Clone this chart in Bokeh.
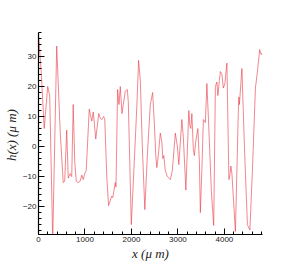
from bokeh.plotting import figure
from bokeh.models import Range1d, SingleIntervalTicker
from bokeh.embed import file_html
from bokeh.resources import INLINE

# surface profile h(x)
x_um = [0, 58, 123, 198, 241, 306, 392, 467, 532, 564, 607, 640, 683, 715, 747,
        780, 812, 855, 898, 931, 963, 995, 1027, 1092, 1124, 1146, 1178, 1232,
        1297, 1329, 1361, 1404, 1426, 1469, 1508, 1544, 1576, 1598, 1620, 1652,
        1667, 1702, 1732, 1760, 1796, 1824, 1868, 1911, 1932, 1997, 2061, 2115,
        2154, 2191, 2234, 2288, 2342, 2406, 2456, 2492, 2524, 2546, 2578, 2621,
        2654, 2675, 2697, 2729, 2772, 2837, 2880, 2944, 2988, 3020, 3085, 3117,
        3171, 3235, 3257, 3278, 3300, 3332, 3354, 3386, 3429, 3462, 3483, 3515,
        3548, 3591, 3623, 3655, 3720, 3770, 3806, 3838, 3860, 3892, 3914, 3946,
        3978, 4011, 4054, 4097, 4118, 4140, 4162, 4237, 4302, 4312, 4323, 4377,
        4431, 4495, 4549, 4603, 4668, 4711, 4760, 4786, 4808, 4818]
h_um = [37.5, 25, 6, 20, 17, -31, 33.5, 5, -12, -11.5, 5.5, -10.5, -9, -10, 14,
        -5, -11.5, -12, -11.5, -9.5, -11, -9, -8, 12.5, 10, 8.5, 11.5, 2.5,
        11, 9.5, 9, 10, 9, -10, -19.7, -18, -16.5, -17, -15, -12,
        -13.5, 19, 14, 20, 11, 14, 18.5, 19, 15, -26, -5, 13,
        28.7, 22, 0, -21, -3, 14, 18, 8, -3, -7, -3, 4.5,
        1.5, -4, -3, -8, -10, -11, -8, 4.5, 0, -6, 9, 3,
        -14.5, 12, 7, 6, 11, -1, -3, 2, 6, -5, -22, -8,
        9, 8, 21, 10, -15, -26.3, 20, 21.5, 17, 22, 25, 24,
        19.5, 21, 27.8, -11, -9.5, -6.5, -9, -28.3, 13, 16.5, 14, 26,
        0, -26, -27.8, -8, 19.5, 25, 32.3, 30.8, 31, 30.5]

x_ticks_step = 1000
y_ticks_step = 10

p = figure(frame_width=224, frame_height=202, output_backend="svg",
           toolbar_location=None,
           x_range=Range1d(0, 4820), y_range=Range1d(-29.3, 38),
           min_border_left=30, min_border_right=19, min_border_top=32,
           min_border_bottom=25,
           x_axis_label="x (μ m)", y_axis_label="h(x)  (μ m)")
p.outline_line_color = None
p.grid.visible = False
p.background_fill_color = "white"
p.border_fill_color = "white"

p.line(x_um, h_um, line_color="#e8404c", line_alpha=0.7, line_width=0.9)

p.xaxis.ticker = SingleIntervalTicker(interval=x_ticks_step, num_minor_ticks=5)
p.yaxis.ticker = SingleIntervalTicker(interval=y_ticks_step, num_minor_ticks=5)

for ax in (p.xaxis[0], p.yaxis[0]):
    ax.major_tick_in = 6
    ax.major_tick_out = 0
    ax.minor_tick_in = 3
    ax.minor_tick_out = 0
    ax.axis_line_width = 1.2
    ax.axis_line_color = "black"
    ax.major_tick_line_color = "black"
    ax.minor_tick_line_color = "black"
    ax.major_label_standoff = 2
    ax.axis_label_standoff = 1
    ax.major_label_text_font = "Liberation Sans"
    ax.major_label_text_font_size = "8px"
    ax.major_label_text_color = "#222222"
    ax.axis_label_text_font = "Liberation Serif"
    ax.axis_label_text_font_style = "italic"
    ax.axis_label_text_font_size = "13px"
    ax.axis_label_text_color = "#222222"

open("out.html", "w").write(file_html(p, INLINE))
